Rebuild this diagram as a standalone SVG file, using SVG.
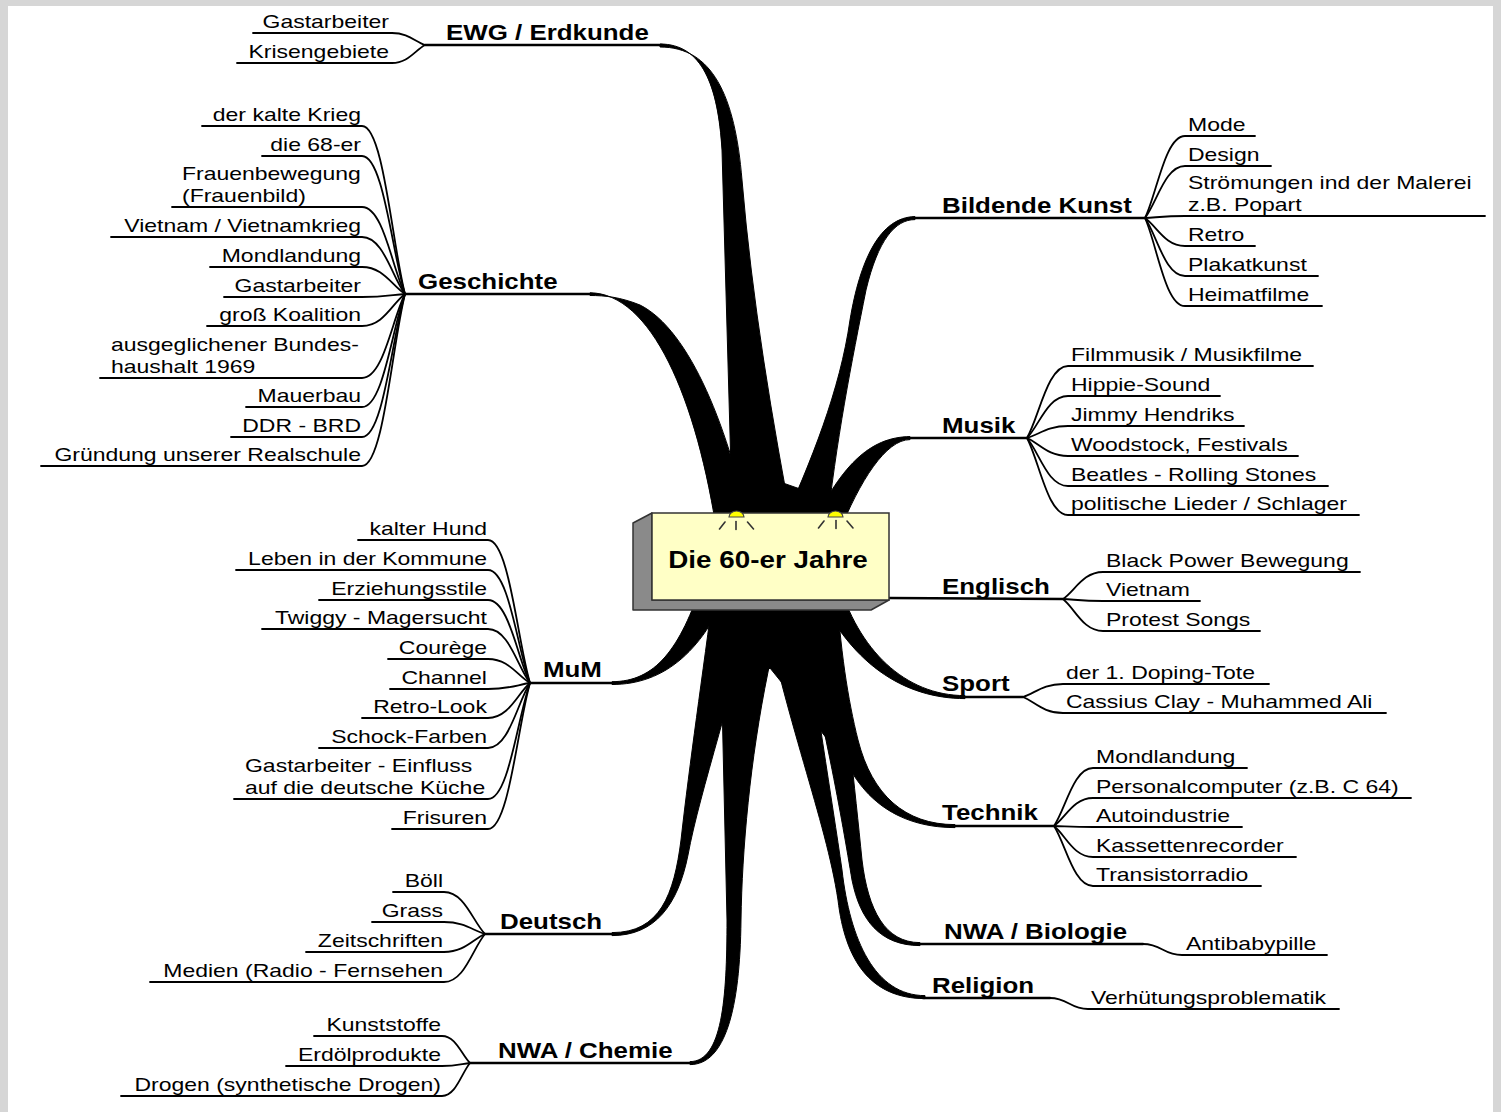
<svg xmlns="http://www.w3.org/2000/svg" width="1501" height="1112" viewBox="0 0 1501 1112">
<style>
text{font-family:"Liberation Sans",Arial,Helvetica,sans-serif;font-size:19px;fill:#000;transform-box:fill-box}
.s{text-anchor:start;transform-origin:0% 50%;transform:scaleX(1.21)}
.e{text-anchor:end;transform-origin:100% 50%;transform:scaleX(1.21)}
.m{text-anchor:middle;transform-origin:50% 50%;transform:scaleX(1.21)}
.b{font-weight:bold;font-size:21.4px}
.ln{fill:none;stroke:#000;stroke-width:1.8;stroke-linecap:round}
.mn{fill:none;stroke:#000;stroke-width:2.5;stroke-linecap:round}
.br{fill:#000;stroke:#000;stroke-width:1;stroke-linejoin:round}
.ray{stroke:#333;stroke-width:1.6;stroke-linecap:round}
</style>
<rect width="1501" height="1112" fill="#d6d6d6"/>
<rect x="8" y="6" width="1485" height="1106" fill="#fff"/>
<g id="connectors">
  <g id="main-branches">
    <path class="br" d="M718,518 L733,463 L783,483 L823,497 L852,518 Z"/>
    <path class="br" d="M698,604 L717,623 L727,713 L770,668 L828,740 L820,647 L836,604 Z"/>
    <path class="br" d="M660,44 C702,44 718,85 722,150 L733,540 L795,540 C772,420 752,300 742,180 C735,95 712,47 660,47 Z"/>
    <path class="br" d="M590,292.8 C650,293 697,395 718,540 L752,540 C730,430 690,330 640,305 C620,297 605,295.5 590,295.5 Z"/>
    <path class="br" d="M612,681.7 C655,681.5 680,650 703,580 L732,580 C705,650 665,684.5 612,684.5 Z"/>
    <path class="br" d="M612,932.6 C660,932.6 674,895 681,840 C690,760 702,680 715,580 L758,580 C735,690 700,790 688,855 C678,905 655,935.6 612,935.6 Z"/>
    <path class="br" d="M690,1061.6 C722,1061.5 727,1000 727,920 L722,700 L716,580 L785,580 L768,672 C750,760 742,850 741,920 C740,1010 725,1064.6 690,1064.6 Z"/>
    <path class="br" d="M925,998.6 C870,998.5 845,960 838,900 C826,820 785,720 758,580 L800,580 C815,700 832,800 842,870 C850,940 875,995.6 925,995.6 Z"/>
    <path class="br" d="M920,945.6 C880,945.5 860,920 852,880 C842,820 825,720 788,580 L832,580 C845,700 855,790 862,860 C868,910 885,942.6 920,942.6 Z"/>
    <path class="br" d="M955,827.6 C890,827.5 850,790 835,730 C825,690 815,650 803,580 L836,580 C840,650 848,700 858,740 C872,795 905,824.6 955,824.6 Z"/>
    <path class="br" d="M965,698.6 C905,698.5 848,665 812,580 L838,580 C858,650 905,695.6 965,695.6 Z"/>
    <path class="br" d="M910,436.6 C870,437 840,465 808,535 L838,535 C860,480 886,439.6 910,439.6 Z"/>
    <path class="br" d="M915,216.6 C880,217 860,260 850,320 C840,390 812,460 778,535 L826,535 C836,440 852,360 866,290 C878,240 895,219.6 915,219.6 Z"/>
  </g>
  <g id="main-underlines">
    <path class="mn" d="M425,45 L662,45"/>
    <path class="mn" d="M405,294 L592,294"/>
    <path class="mn" d="M530,683 L614,683"/>
    <path class="mn" d="M485,934 L614,934"/>
    <path class="mn" d="M470,1063 L692,1063"/>
    <path class="mn" d="M913,218 L1145,218"/>
    <path class="mn" d="M908,438 L1027,438"/>
    <path class="mn" d="M889,598 L1063,599"/>
    <path class="mn" d="M963,697 L1023,697"/>
    <path class="mn" d="M953,826 L1054,826"/>
    <path class="mn" d="M918,944 L1143,944"/>
    <path class="mn" d="M923,998 L1050,998"/>
  </g>
  <g id="sub-lines">
    <path class="ln" d="M253,33 L392,33 C408,33 415,41.4 425,45"/>
    <path class="ln" d="M237,63 L392,63 C408,63 415,50.4 425,45"/>

    <path class="ln" d="M202,126 L362,126 C383.5,126 392,243.6 405,294"/>
    <path class="ln" d="M262,156 L362,156 C383.5,156 392,252.6 405,294"/>
    <path class="ln" d="M172,207 L362,207 C383.5,207 392,267.9 405,294"/>
    <path class="ln" d="M111,237 L362,237 C383.5,237 392,276.9 405,294"/>
    <path class="ln" d="M210,267 L362,267 C383.5,267 392,285.9 405,294"/>
    <path class="ln" d="M224,297 L362,297 C383.5,297 392,294.9 405,294"/>
    <path class="ln" d="M207,326 L362,326 C383.5,326 392,303.6 405,294"/>
    <path class="ln" d="M100,378 L362,378 C383.5,378 392,319.2 405,294"/>
    <path class="ln" d="M246,407 L362,407 C383.5,407 392,327.9 405,294"/>
    <path class="ln" d="M231,437 L362,437 C383.5,437 392,336.9 405,294"/>
    <path class="ln" d="M41,466 L362,466 C383.5,466 392,345.6 405,294"/>

    <path class="ln" d="M358,540 L488,540 C509,540 517.4,640.1 530,683"/>
    <path class="ln" d="M236,570 L488,570 C509,570 517.4,649.1 530,683"/>
    <path class="ln" d="M319,600 L488,600 C509,600 517.4,658.1 530,683"/>
    <path class="ln" d="M262,629 L488,629 C509,629 517.4,666.8 530,683"/>
    <path class="ln" d="M388,659 L488,659 C509,659 517.4,675.8 530,683"/>
    <path class="ln" d="M390,689 L488,689 C509,689 517.4,684.8 530,683"/>
    <path class="ln" d="M362,718 L488,718 C509,718 517.4,693.5 530,683"/>
    <path class="ln" d="M319,748 L488,748 C509,748 517.4,702.5 530,683"/>
    <path class="ln" d="M234,799 L488,799 C509,799 517.4,717.8 530,683"/>
    <path class="ln" d="M392,829 L488,829 C509,829 517.4,726.8 530,683"/>

    <path class="ln" d="M393,892 L444,892 C464.5,892 472.7,921.4 485,934"/>
    <path class="ln" d="M372,922 L444,922 C464.5,922 472.7,930.4 485,934"/>
    <path class="ln" d="M306,952 L444,952 C464.5,952 472.7,939.4 485,934"/>
    <path class="ln" d="M150,982 L444,982 C464.5,982 472.7,948.4 485,934"/>

    <path class="ln" d="M314,1036 L442,1036 C456,1036 461.6,1054.9 470,1063"/>
    <path class="ln" d="M286,1066 L442,1066 C456,1066 461.6,1063.9 470,1063"/>
    <path class="ln" d="M121,1096 L442,1096 C456,1096 461.6,1072.9 470,1063"/>

    <path class="ln" d="M1145,218 C1157,193.4 1165,136 1185,136 L1255,136"/>
    <path class="ln" d="M1145,218 C1157,202.4 1165,166 1185,166 L1271,166"/>
    <path class="ln" d="M1145,218 C1157,217.4 1165,216 1185,216 L1485,216"/>
    <path class="ln" d="M1145,218 C1157,226.4 1165,246 1185,246 L1255,246"/>
    <path class="ln" d="M1145,218 C1157,235.4 1165,276 1185,276 L1318,276"/>
    <path class="ln" d="M1145,218 C1157,244.4 1165,306 1185,306 L1322,306"/>

    <path class="ln" d="M1027,438 C1039.3,416.4 1047.5,366 1068,366 L1313,366"/>
    <path class="ln" d="M1027,438 C1039.3,425.4 1047.5,396 1068,396 L1220,396"/>
    <path class="ln" d="M1027,438 C1039.3,434.4 1047.5,426 1068,426 L1244,426"/>
    <path class="ln" d="M1027,438 C1039.3,443.4 1047.5,456 1068,456 L1298,456"/>
    <path class="ln" d="M1027,438 C1039.3,452.4 1047.5,486 1068,486 L1328,486"/>
    <path class="ln" d="M1027,438 C1039.3,461.1 1047.5,515 1068,515 L1359,515"/>

    <path class="ln" d="M1063,599 C1075,590.9 1083,572 1103,572 L1360,572"/>
    <path class="ln" d="M1063,599 C1075,599.6 1083,601 1103,601 L1200,601"/>
    <path class="ln" d="M1063,599 C1075,608.6 1083,631 1103,631 L1260,631"/>

    <path class="ln" d="M1023,697 C1035,693.1 1043,684 1063,684 L1269,684"/>
    <path class="ln" d="M1023,697 C1035,701.8 1043,713 1063,713 L1386,713"/>

    <path class="ln" d="M1054,826 C1065.7,808.6 1073.5,768 1093,768 L1247,768"/>
    <path class="ln" d="M1054,826 C1065.7,817.6 1073.5,798 1093,798 L1411,798"/>
    <path class="ln" d="M1054,826 C1065.7,826.3 1073.5,827 1093,827 L1242,827"/>
    <path class="ln" d="M1054,826 C1065.7,835.3 1073.5,857 1093,857 L1296,857"/>
    <path class="ln" d="M1054,826 C1065.7,844 1073.5,886 1093,886 L1261,886"/>

    <path class="ln" d="M1143,944 C1162,944 1163,955 1182,955 L1327,955"/>
    <path class="ln" d="M1050,998 C1068,998 1070,1009 1088,1009 L1339,1009"/>
  </g>
</g>

<g id="center">
  <path d="M652,513 L633,523 L633,610 L871,610 L889,600 L652,600 Z" fill="#8a8a8a" stroke="#333" stroke-width="1.5" stroke-linejoin="round"/>
  <rect x="652" y="513" width="237" height="87" fill="#ffffc6" stroke="#333" stroke-width="1.5"/>
  <path d="M729,517 A7.5,6 0 0 1 744,517 Z" fill="#ffff00" stroke="#444" stroke-width="1.2"/>
  <path d="M828,517 A7.5,6 0 0 1 843,517 Z" fill="#ffff00" stroke="#444" stroke-width="1.2"/>
  <line class="ray" x1="719.5" y1="529" x2="725" y2="522"/>
  <line class="ray" x1="736" y1="521.5" x2="736" y2="529.5"/>
  <line class="ray" x1="747.5" y1="522" x2="753.5" y2="529"/>
  <line class="ray" x1="818.5" y1="528" x2="824" y2="521"/>
  <line class="ray" x1="836" y1="520.5" x2="836" y2="528.5"/>
  <line class="ray" x1="847" y1="521" x2="853" y2="528"/>
  <text class="b m" x="768" y="568" style="font-size:23px">Die 60-er Jahre</text>
</g>

<g id="ewg">
  <text class="b s" x="446" y="40">EWG / Erdkunde</text>
  <text class="e" x="389" y="28">Gastarbeiter</text>
  <text class="e" x="389" y="58">Krisengebiete</text>
</g>

<g id="geschichte">
  <text class="b s" x="418" y="289">Geschichte</text>
  <text class="e" x="361" y="121">der kalte Krieg</text>
  <text class="e" x="361" y="151">die 68-er</text>
  <text class="s" x="182" y="180">Frauenbewegung</text>
  <text class="s" x="182" y="202">(Frauenbild)</text>
  <text class="e" x="361" y="232">Vietnam / Vietnamkrieg</text>
  <text class="e" x="361" y="262">Mondlandung</text>
  <text class="e" x="361" y="292">Gastarbeiter</text>
  <text class="e" x="361" y="321">groß Koalition</text>
  <text class="s" x="111" y="351">ausgeglichener Bundes-</text>
  <text class="s" x="111" y="373">haushalt 1969</text>
  <text class="e" x="361" y="402">Mauerbau</text>
  <text class="e" x="361" y="432">DDR - BRD</text>
  <text class="e" x="361" y="461">Gründung unserer Realschule</text>
</g>

<g id="mum">
  <text class="b s" x="543" y="677">MuM</text>
  <text class="e" x="487" y="535">kalter Hund</text>
  <text class="e" x="487" y="565">Leben in der Kommune</text>
  <text class="e" x="487" y="595">Erziehungsstile</text>
  <text class="e" x="487" y="624">Twiggy - Magersucht</text>
  <text class="e" x="487" y="654">Courège</text>
  <text class="e" x="487" y="684">Channel</text>
  <text class="e" x="487" y="713">Retro-Look</text>
  <text class="e" x="487" y="743">Schock-Farben</text>
  <text class="s" x="245" y="772">Gastarbeiter - Einfluss</text>
  <text class="s" x="245" y="794">auf die deutsche Küche</text>
  <text class="e" x="487" y="824">Frisuren</text>
</g>

<g id="deutsch">
  <text class="b s" x="500" y="929">Deutsch</text>
  <text class="e" x="443" y="887">Böll</text>
  <text class="e" x="443" y="917">Grass</text>
  <text class="e" x="443" y="947">Zeitschriften</text>
  <text class="e" x="443" y="977">Medien (Radio - Fernsehen</text>
</g>

<g id="nwa-chemie">
  <text class="b s" x="498" y="1058">NWA / Chemie</text>
  <text class="e" x="441" y="1031">Kunststoffe</text>
  <text class="e" x="441" y="1061">Erdölprodukte</text>
  <text class="e" x="441" y="1091">Drogen (synthetische Drogen)</text>
</g>

<g id="bildende-kunst">
  <text class="b s" x="942" y="213">Bildende Kunst</text>
  <text class="s" x="1188" y="131">Mode</text>
  <text class="s" x="1188" y="161">Design</text>
  <text class="s" x="1188" y="189">Strömungen ind der Malerei</text>
  <text class="s" x="1188" y="211">z.B. Popart</text>
  <text class="s" x="1188" y="241">Retro</text>
  <text class="s" x="1188" y="271">Plakatkunst</text>
  <text class="s" x="1188" y="301">Heimatfilme</text>
</g>

<g id="musik">
  <text class="b s" x="942" y="433">Musik</text>
  <text class="s" x="1071" y="361">Filmmusik / Musikfilme</text>
  <text class="s" x="1071" y="391">Hippie-Sound</text>
  <text class="s" x="1071" y="421">Jimmy Hendriks</text>
  <text class="s" x="1071" y="451">Woodstock, Festivals</text>
  <text class="s" x="1071" y="481">Beatles - Rolling Stones</text>
  <text class="s" x="1071" y="510">politische Lieder / Schlager</text>
</g>

<g id="englisch">
  <text class="b s" x="942" y="594">Englisch</text>
  <text class="s" x="1106" y="567">Black Power Bewegung</text>
  <text class="s" x="1106" y="596">Vietnam</text>
  <text class="s" x="1106" y="626">Protest Songs</text>
</g>

<g id="sport">
  <text class="b s" x="942" y="691">Sport</text>
  <text class="s" x="1066" y="679">der 1. Doping-Tote</text>
  <text class="s" x="1066" y="708">Cassius Clay - Muhammed Ali</text>
</g>

<g id="technik">
  <text class="b s" x="942" y="820">Technik</text>
  <text class="s" x="1096" y="763">Mondlandung</text>
  <text class="s" x="1096" y="793">Personalcomputer (z.B. C 64)</text>
  <text class="s" x="1096" y="822">Autoindustrie</text>
  <text class="s" x="1096" y="852">Kassettenrecorder</text>
  <text class="s" x="1096" y="881">Transistorradio</text>
</g>

<g id="nwa-biologie">
  <text class="b s" x="944" y="939">NWA / Biologie</text>
  <text class="s" x="1186" y="950">Antibabypille</text>
</g>

<g id="religion">
  <text class="b s" x="932" y="993">Religion</text>
  <text class="s" x="1091" y="1004">Verhütungsproblematik</text>
</g>
</svg>
